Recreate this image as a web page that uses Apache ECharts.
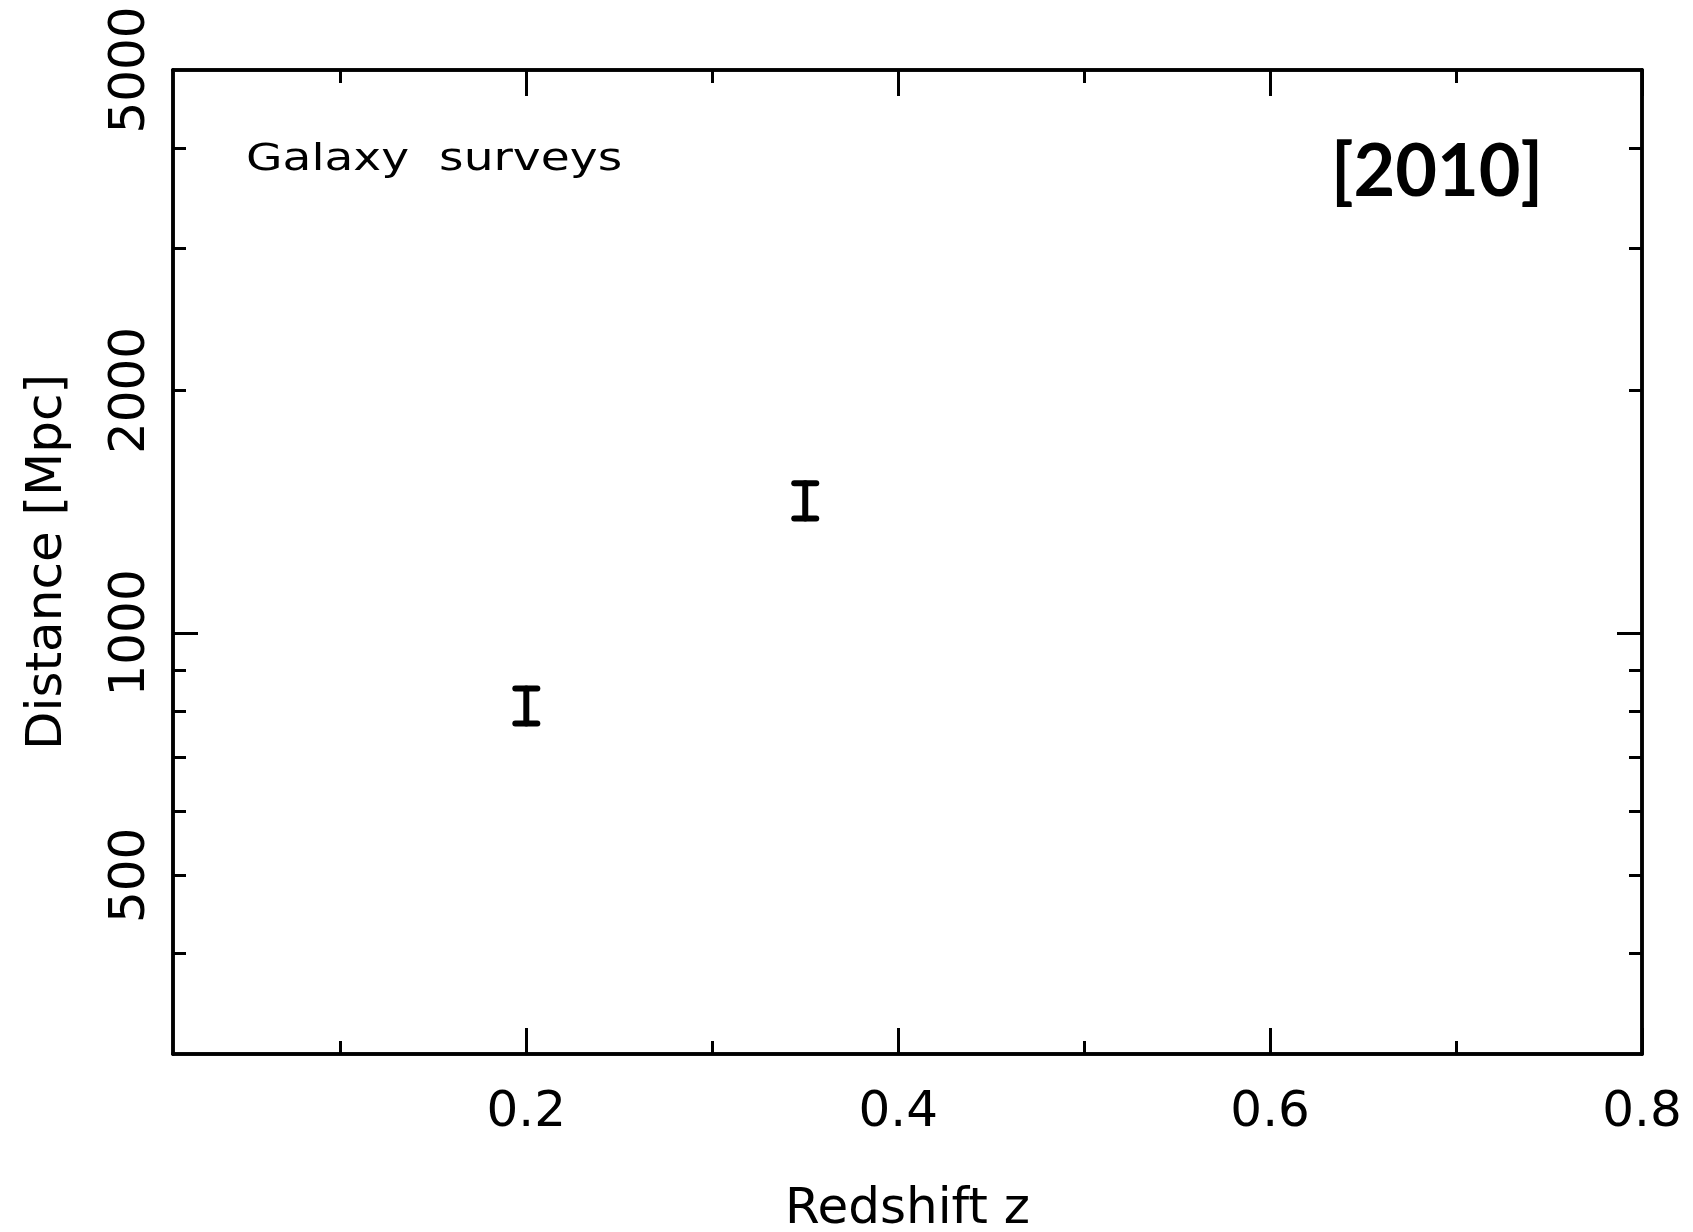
<!DOCTYPE html>
<html>
<head>
<meta charset="UTF-8">
<title>Galaxy surveys [2010]</title>
<script src="https://cdn.jsdelivr.net/npm/echarts@6.0.0/dist/echarts.min.js"></script>
<style>
  html, body { margin: 0; padding: 0; background: #fff; }
  #chart { width: 1693px; height: 1232px; }
</style>
</head>
<body>
<div id="chart"></div>
<script>
  // distance measurements (error bars) from galaxy surveys
  const redshift = [0.2, 0.35];
  const distLow = [772, 1387];
  const distHigh = [853, 1534];

  // axis ticks and labels
  const xMajorTicks = [0.2, 0.4, 0.6, 0.8];
  const xMinorTicks = [0.1, 0.3, 0.5, 0.7];
  const yMajorTicks = [1000];
  const yMinorTicks = [400, 500, 600, 700, 800, 900, 2000, 3000, 4000];
  const yLabels = [500, 1000, 2000, 5000];

  const FONT = '"DejaVu Sans", sans-serif';
  const black = '#000';

  function xAxisDef(position, ticks, len, showLabels) {
    return {
      type: 'value', min: 0.01, max: 0.8, position: position,
      axisLine: { show: true, lineStyle: { color: black, width: 3.5 } },
      axisTick: { show: true, inside: true, length: len, customValues: ticks,
                  lineStyle: { color: black, width: 3 } },
      axisLabel: showLabels ? {
        show: true, customValues: xMajorTicks, margin: 34,
        fontSize: 50, fontFamily: FONT, color: black,
        formatter: v => String(v)
      } : { show: false },
      splitLine: { show: false },
      name: showLabels ? 'Redshift z' : '',
      nameLocation: 'middle', nameGap: 131,
      nameTextStyle: { fontSize: 50, fontFamily: FONT, color: black }
    };
  }

  function yAxisDef(position, ticks, len, showLabels) {
    return {
      type: 'log', logBase: 10, min: 300, max: 5000, position: position,
      axisLine: { show: true, lineStyle: { color: black, width: 3.5 } },
      axisTick: { show: true, inside: true, length: len, customValues: ticks,
                  lineStyle: { color: black, width: 3 } },
      axisLabel: showLabels ? {
        show: true, customValues: yLabels, rotate: 90, margin: 17,
        fontSize: 50, fontFamily: FONT, color: black,
        formatter: v => String(Math.round(v))
      } : { show: false },
      splitLine: { show: false },
      name: showLabels ? 'Distance [Mpc]' : '',
      nameLocation: 'middle', nameGap: 100,
      nameTextStyle: { fontSize: 50, fontFamily: FONT, color: black }
    };
  }

  const chart = echarts.init(document.getElementById('chart'));

  chart.setOption({
    animation: false,
    backgroundColor: '#fff',
    grid: { left: 173, right: 51, top: 70, bottom: 178,
            containLabel: false, outerBoundsMode: 'none' },
    // duplicate axes give long and short ticks on all four sides
    xAxis: [
      xAxisDef('bottom', xMajorTicks, 26, true),
      xAxisDef('top', xMajorTicks, 26, false),
      xAxisDef('bottom', xMinorTicks, 13, false),
      xAxisDef('top', xMinorTicks, 13, false)
    ],
    yAxis: [
      yAxisDef('left', yMajorTicks, 25, true),
      yAxisDef('right', yMajorTicks, 25, false),
      yAxisDef('left', yMinorTicks, 13, false),
      yAxisDef('right', yMinorTicks, 13, false)
    ],
    graphic: [
      {
        type: 'text', x: 246, y: 160, scaleX: 1.24,
        style: { text: 'Galaxy  surveys', fontSize: 38, fontFamily: FONT,
                 fill: black, align: 'left', verticalAlign: 'middle' }
      },
      {
        type: 'text', x: 1437, y: 173,
        style: { text: '[2010]', fontSize: 72, fontWeight: 'bold',
                 fontFamily: 'Lato, sans-serif',
                 fill: black, align: 'center', verticalAlign: 'middle' }
      }
    ],
    series: [{
      type: 'custom',
      xAxisIndex: 0, yAxisIndex: 0,
      data: redshift.map((z, i) => [z, distLow[i], distHigh[i]]),
      encode: { x: 0, y: [1, 2] },
      renderItem: function (params, api) {
        const lo = api.coord([api.value(0), api.value(1)]);
        const hi = api.coord([api.value(0), api.value(2)]);
        const half = 11;
        const style = { stroke: black, lineWidth: 6, lineCap: 'round', fill: null };
        return {
          type: 'group',
          children: [
            { type: 'line', shape: { x1: lo[0], y1: lo[1], x2: hi[0], y2: hi[1] }, style: style },
            { type: 'line', shape: { x1: lo[0] - half, y1: lo[1], x2: lo[0] + half, y2: lo[1] }, style: style },
            { type: 'line', shape: { x1: hi[0] - half, y1: hi[1], x2: hi[0] + half, y2: hi[1] }, style: style }
          ]
        };
      }
    }]
  });
</script>
</body>
</html>
